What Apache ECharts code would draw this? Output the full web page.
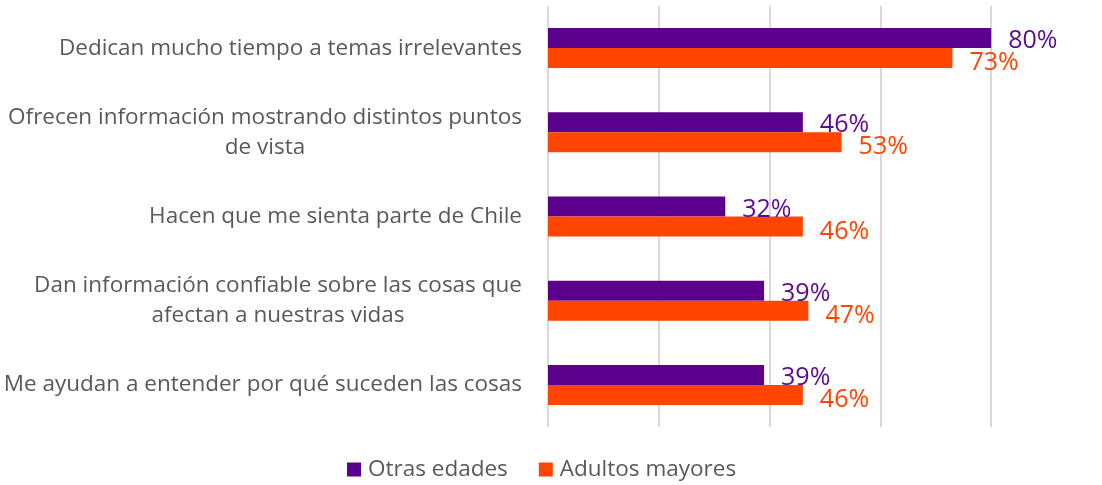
<!DOCTYPE html>
<html><head><meta charset="utf-8">
<script src="https://cdn.jsdelivr.net/npm/echarts@6/dist/echarts.min.js"></script>
<style>html,body{margin:0;padding:0;background:#fff}#c{width:1102px;height:485px}</style>
</head><body><div id="c"></div>
<script>
const categories = [
  "Dedican mucho tiempo a temas irrelevantes",
  "Ofrecen información mostrando distintos puntos\nde vista",
  "Hacen que me sienta parte de Chile",
  "Dan información confiable sobre las cosas que\nafectan a nuestras vidas",
  "Me ayudan a entender por qué suceden las cosas"
];
const otrasEdades = [80, 46, 32, 39, 39];
const adultosMayores = [73, 53, 46, 47, 46];
const seriesNames = ["Otras edades", "Adultos mayores"];

const FONT = "Open Sans";
const CAT_SIZE = 22.5;
const TXT = "#595959";
const PURPLE = "#5B008C";
const ORANGE = "#FF4500";
const GRID = "#d9d9d9";

const mctx = document.createElement("canvas").getContext("2d");
mctx.font = CAT_SIZE + "px '" + FONT + "'";
const richStyles = {};
function fmtCat(v, idx) {
  const parts = v.split("\n");
  if (parts.length === 1) return v;
  const key = "r" + idx;
  return parts.map(p => "{" + key + "|" + p + "}").join("\n");
}
categories.forEach((v, idx) => {
  const parts = v.split("\n");
  if (parts.length > 1) {
    const w = Math.ceil(Math.max.apply(null, parts.map(p => mctx.measureText(p).width)));
    richStyles["r" + idx] = {width: w, align: "center", fontFamily: FONT, fontSize: CAT_SIZE, color: TXT, lineHeight: 30};
  }
});

const chart = echarts.init(document.getElementById("c"), null, {renderer: "canvas"});
chart.setOption({
  animation: false,
  textStyle: {fontFamily: FONT},
  grid: {left: 548, top: 6, right: 0, height: 421, containLabel: false},
  legend: {
    data: seriesNames,
    left: 342, top: 453,
    itemWidth: 14, itemHeight: 14, itemGap: 31,
    icon: "rect",
    textStyle: {fontFamily: FONT, fontSize: CAT_SIZE, color: TXT, padding: [0,0,0,2]}
  },
  xAxis: {
    type: "value", min: 0, max: 100, interval: 20,
    axisLabel: {show: false}, axisLine: {show: false}, axisTick: {show: false},
    splitLine: {show: true, lineStyle: {color: [GRID, GRID, GRID, GRID, GRID, "rgba(0,0,0,0)"], width: 2}}
  },
  yAxis: {
    type: "category", data: categories, inverse: true,
    axisLine: {show: false}, axisTick: {show: false},
    axisLabel: {
      margin: 26, fontFamily: FONT, fontSize: CAT_SIZE, color: TXT, lineHeight: 30,
      formatter: fmtCat,
      rich: richStyles
    }
  },
  series: [
    {
      name: seriesNames[0], type: "bar", data: otrasEdades,
      barWidth: 20, barGap: "0%",
      itemStyle: {color: PURPLE},
      label: {show: true, position: "right", distance: 17, offset: [0, 3],
        formatter: "{c}%", fontFamily: FONT, fontSize: 25, color: "#5B0A91"}
    },
    {
      name: seriesNames[1], type: "bar", data: adultosMayores,
      barWidth: 20, barGap: "0%",
      itemStyle: {color: ORANGE},
      label: {show: true, position: "right", distance: 17, offset: [0, 5],
        formatter: "{c}%", fontFamily: FONT, fontSize: 25, color: ORANGE}
    }
  ]
});
</script></body></html>
